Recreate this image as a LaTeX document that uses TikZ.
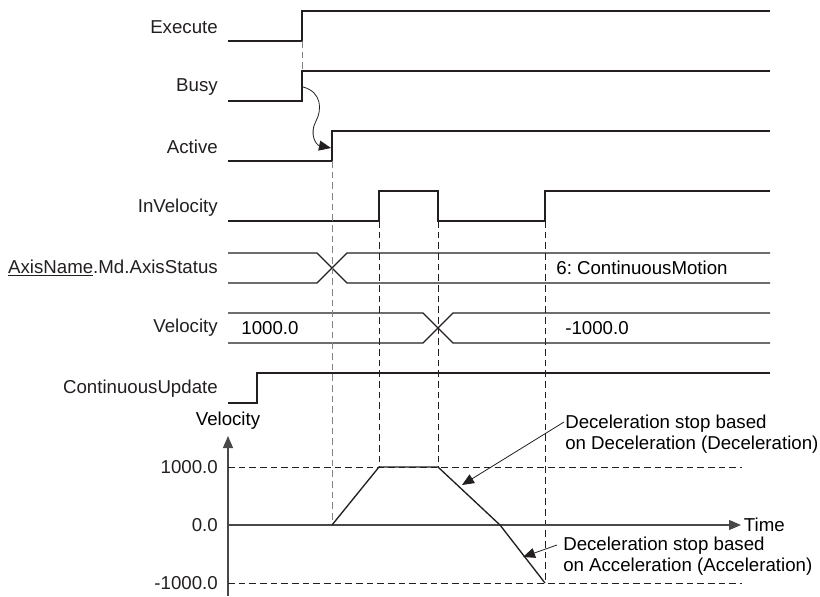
\documentclass[tikz,border=0pt]{standalone}
\usepackage{fontspec}
\setmainfont{Liberation Sans}
\usetikzlibrary{arrows.meta, positioning, calc}
\definecolor{garis}{RGB}{35,31,32}
\definecolor{abu}{RGB}{130,130,130}
\frenchspacing

\begin{document}
\begin{tikzpicture}[x=0.75pt, y=-0.75pt, font=\fontsize{14}{15.75}\selectfont,
    sinyal/.style={draw=garis, line width=1pt},
    putus/.style={draw=garis, line width=0.6pt, dash pattern=on 5pt off 3pt},
    putusabu/.style={putus, draw=abu},
    nama/.style={anchor=east, inner sep=0pt, text=garis},
    ujung/.style={-{Triangle[length=9pt, width=7.5pt]}}]
    \useasboundingbox (0,0) rectangle (820,596);

    % bit signals
    \foreach \nm/\lbl/\y/\up in {
        exe/Execute/41/302,
        busy/Busy/101/302,
        act/Active/161/332,
        cu/ContinuousUpdate/403/257}
    {
        \node[nama] (\nm) at (218,\y-14) {\lbl};
        \draw[sinyal] (228,\y) -- (\up,\y) -- (\up,\y-30) -- (770,\y-30);
    }
    \node[nama] (inv) at (218,208) {InVelocity};
    \draw[sinyal] (228,221) -- (379,221) -- (379,191) -- (438,191)
        -- (438,221) -- (545,221) -- (545,191) -- (770,191);

    % word signals
    \foreach \nm/\lbl/\yt/\xc in {
        stat/{\underline{AxisName}.Md.AxisStatus}/253/332,
        vel/Velocity/313/438}
    {
        \node[nama] (\nm) at (218,\yt+15) {\lbl};
        \draw[sinyal] (228,\yt) -- (\xc-15,\yt) -- (\xc+15,\yt+30) -- (770,\yt+30);
        \draw[sinyal] (228,\yt+30) -- (\xc-15,\yt+30) -- (\xc+15,\yt) -- (770,\yt);
    }
    \node (statval) at (642,268) {6: ContinuousMotion};
    \node (velold) at (270,328) {1000.0};
    \node (velnew) at (597,328) {-1000.0};

    % timing marks
    \draw[putusabu] (302,41) -- (302,71);
    \draw[putusabu] (332,161) -- (332,525);
    \draw[putus] (379,221) -- (379,467);
    \draw[putus] (438,221) -- (438,467);
    \draw[putus] (545,221) -- (545,583);

    \coordinate (busyrise) at (303,87);
    \coordinate (actrise) at (331,148);
    \draw[garis, line width=0.6pt, ujung] (busyrise)
        .. controls (322,92) and (322,110) .. (316,121)
        .. controls (309,134) and (316,145) .. (actrise);

    % velocity graph
    \draw[draw=abu!40!garis, line width=0.9pt, ujung] (228,596) -- (228,436);
    \draw[draw=abu!40!garis, line width=0.9pt, ujung] (228,525) -- (741,525);
    \node[anchor=south] (vlbl) at (228,434) {Velocity};
    \node[anchor=west, inner sep=2pt] (tlbl) at (741,525) {Time};
    \draw[putus] (228,467) -- (742,467);
    \draw[putus] (228,583) -- (742,583);
    \foreach \nm/\lbl/\y in {vmax/1000.0/467, vnol/0.0/525, vmin/-1000.0/583}
        \node[nama] (\nm) at (218,\y) {\lbl};
    \draw[sinyal] (332,525) -- (379,467) -- (438,467) -- (500,525) -- (545,583);

    % notes
    \node[anchor=north west, align=left, inner sep=0pt] (notedec) at (565,415)
        {Deceleration stop based\\on Deceleration (Deceleration)};
    \node[anchor=north west, align=left, inner sep=0pt] (noteacc) at (563,537)
        {Deceleration stop based\\on Acceleration (Acceleration)};
    \coordinate (decpt) at (462,485);
    \coordinate (accpt) at (523,557);
    \draw[garis, line width=0.6pt, ujung] ($(notedec.north west)+(-1,7)$) -- (decpt);
    \draw[garis, line width=0.6pt, ujung] ($(noteacc.north west)+(-6,8)$) -- (accpt);
\end{tikzpicture}
\end{document}
